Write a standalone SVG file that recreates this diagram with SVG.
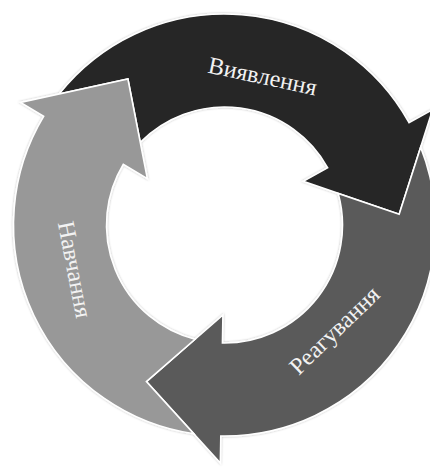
<svg xmlns="http://www.w3.org/2000/svg" xmlns:xlink="http://www.w3.org/1999/xlink" width="430" height="467" viewBox="0 0 430 467">
  <defs>
    <!-- One curved block arrow of the ring, drawn around the origin.
         Head base lies on the +x axis; the body runs back 120 degrees and its
         tail is notched to fit the head of the arrow before it. -->
    <path id="ring-arrow" d="M -81.19,-194.76 A 211 211 0 0 1 211,0 L 238,0 L 157.95,75.34 L 90,0 L 118,0 A 118 118 0 0 0 -33.59,-113.12 L -13.73,-174.46 Z"/>
    <filter id="halo" x="-10%" y="-10%" width="120%" height="120%">
      <feDropShadow dx="0" dy="0" stdDeviation="0.9" flood-color="#000" flood-opacity="0.28"/>
    </filter>
  </defs>
  <style>
    .arrow { stroke: #ffffff; stroke-width: 1.6; stroke-linejoin: miter; }
    .dark { fill: #252525; }
    .mid { fill: #5a5a5a; }
    .light { fill: #989898; }
    .label { font-family: "Liberation Serif", "Times New Roman", serif; font-size: 24px; fill: #f2f2f2; text-anchor: middle; }
  </style>
  <rect width="430" height="467" fill="#ffffff"/>

  <g id="cycle" filter="url(#halo)">
    <g id="node-detection">
      <use xlink:href="#ring-arrow" class="arrow dark" transform="translate(224.5 225) rotate(-29)"/>
    </g>
    <g id="node-response">
      <use xlink:href="#ring-arrow" class="arrow mid" transform="translate(224.5 225) rotate(91)"/>
    </g>
    <g id="node-learning">
      <use xlink:href="#ring-arrow" class="arrow light" transform="translate(224.5 225) rotate(211)"/>
    </g>
  </g>

  <g id="labels">
    <text class="label" transform="translate(261 84) rotate(12)">Виявлення</text>
    <text class="label" transform="translate(340 336) rotate(-44)">Реагування</text>
    <text class="label" transform="translate(67 271) rotate(79)">Навчання</text>
  </g>

  <!-- The ring has no separate connectors: the arrows themselves form the cycle. -->
  <g id="connectors"/>
</svg>
